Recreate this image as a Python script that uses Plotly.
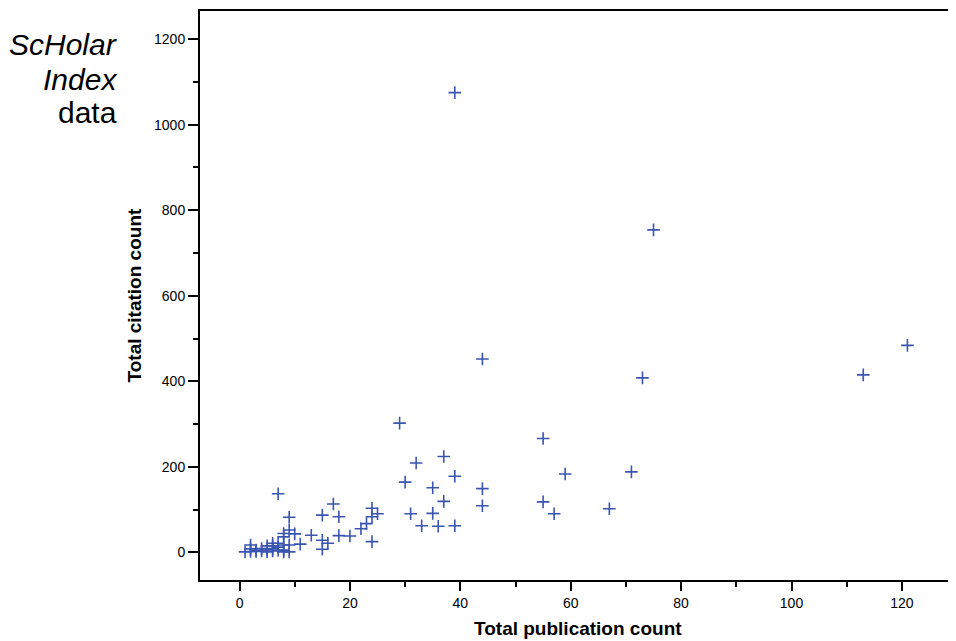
import plotly.graph_objects as go

# Total publication count (x) and total citation count (y) per researcher
pub_count = [39, 75, 73, 121, 113, 44,
             29, 55, 32, 37, 39, 71, 59, 30, 35, 44, 7, 37, 55, 17, 44, 67, 24,
             31, 35, 25, 57, 15, 18, 24, 9, 23, 39, 33, 36, 22, 9, 8, 10, 13,
             18, 20, 8, 15, 24, 16, 11, 15,
             1, 2, 2, 3, 3, 4, 4, 5, 5, 5, 6, 6, 6, 7, 7, 7, 8, 8, 8, 9, 9, 2, 6]
cit_count = [1075, 754, 408, 484, 415, 452,
             302, 266, 209, 224, 178, 188, 183, 164, 151, 149, 137, 119, 118, 113, 109, 102, 103,
             90, 91, 90, 90, 87, 83, 83, 82, 67, 62, 62, 61, 55, 52, 44, 43, 40,
             39, 38, 36, 28, 25, 21, 19, 7,
             1, 17, 2, 5, 2, 9, 3, 15, 1, 6, 21, 9, 3, 21, 5, 12, 17, 5, 1, 17, 1, 8, 15]

x_ticks = [0, 20, 40, 60, 80, 100, 120]
y_ticks = [0, 200, 400, 600, 800, 1000, 1200]

fig = go.Figure()
fig.add_trace(go.Scatter(
    x=pub_count, y=cit_count, mode="markers",
    marker=dict(symbol="cross-thin", size=9, color="#3a55b0",
                line=dict(width=1.6, color="#3a55b0")),
    showlegend=False,
))

font_fam = "Liberation Sans, Arial, sans-serif"
# page body has an 8px default margin, so the figure is 8px smaller
fig.update_layout(
    width=948, height=633,
    margin=dict(l=192, r=0, t=3, b=61),
    paper_bgcolor="white", plot_bgcolor="white",
    font=dict(family=font_fam, color="black"),
    xaxis=dict(
        range=[-7.16, 129.8], tickvals=x_ticks, showgrid=False, zeroline=False,
        showline=True, linecolor="black", linewidth=2, mirror=True,
        ticks="outside", ticklen=9, tickwidth=2, tickcolor="black",
        minor=dict(dtick=10, tick0=0, ticks="outside", ticklen=5, tickwidth=2, tickcolor="black"),
        tickfont=dict(size=14, family=font_fam),
    ),
    yaxis=dict(
        range=[-64.8, 1266], tickvals=y_ticks, showgrid=False, zeroline=False,
        showline=True, linecolor="black", linewidth=2, mirror=False,
        ticks="outside", ticklen=10, tickwidth=2, tickcolor="black",
        minor=dict(dtick=100, tick0=0, ticks="outside", ticklen=5, tickwidth=2, tickcolor="black"),
        tickfont=dict(size=14, family=font_fam),
    ),
)

# axis titles
fig.add_annotation(text="<b>Total publication count</b>", xref="paper", yref="paper",
                   x=0.5, y=-0.0844, xanchor="center", yanchor="middle", showarrow=False,
                   font=dict(size=19, family=font_fam, color="black"))
fig.add_annotation(text="<b>Total citation count</b>", xref="paper", yref="paper",
                   x=-0.086, y=0.5, xanchor="center", yanchor="middle", showarrow=False,
                   textangle=-90, font=dict(size=19, family=font_fam, color="black"))

label_lines = [("<i>ScHolar</i>", 0.942), ("<i>Index</i>", 0.880), ("data", 0.822)]
for txt, yy in label_lines:
    fig.add_annotation(text=txt, xref="paper", yref="paper", x=-0.107, y=yy,
                       xanchor="right", yanchor="middle", showarrow=False,
                       font=dict(size=30, family=font_fam, color="black"))

fig.write_html("out.html")
